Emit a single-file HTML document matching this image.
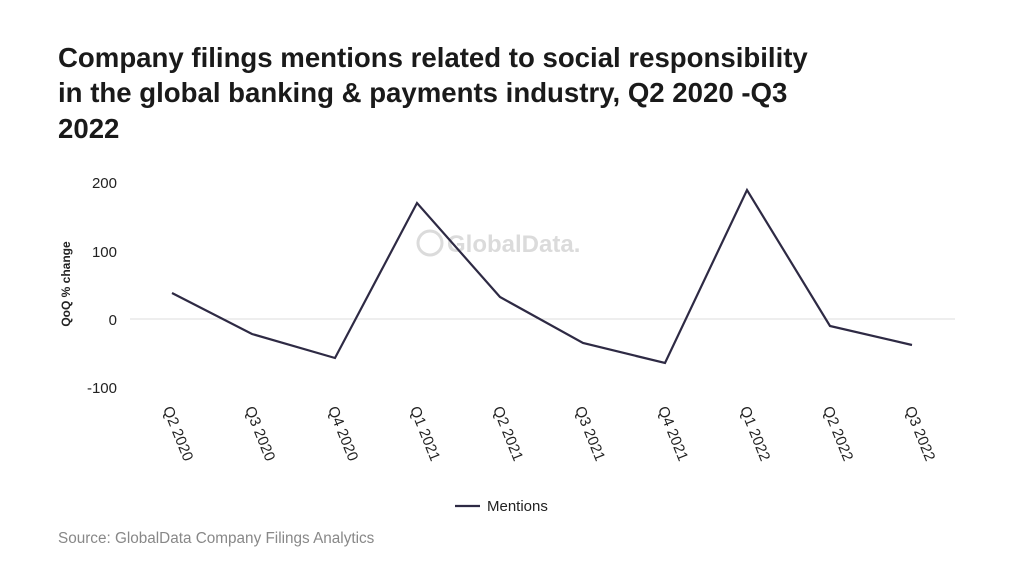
<!DOCTYPE html>
<html><head><meta charset="utf-8"><style>
body{margin:0;background:#fff;width:1024px;height:558px;overflow:hidden;font-family:"Liberation Sans",sans-serif}
</style></head><body>
<svg width="1024" height="558" xmlns="http://www.w3.org/2000/svg" font-family="Liberation Sans, sans-serif">
<text font-size="27.6" font-weight="bold" fill="#1a1a1a">
<tspan x="58" y="67">Company filings mentions related to social responsibility</tspan>
<tspan x="58" y="102">in the global banking &amp; payments industry, Q2 2020 -Q3</tspan>
<tspan x="58" y="138">2022</tspan>
</text>
<g font-size="15" fill="#222" text-anchor="end">
<text x="117" y="188">200</text>
<text x="117" y="257">100</text>
<text x="117" y="325">0</text>
<text x="117" y="393">-100</text>
</g>
<text transform="translate(70,284) rotate(-90)" font-size="12" font-weight="bold" text-anchor="middle" fill="#222">QoQ % change</text>
<line x1="130" y1="319" x2="955" y2="319" stroke="#ddd" stroke-width="1"/>
<g opacity="0.35" fill="#999">
<circle cx="430" cy="243" r="12" fill="none" stroke="#999" stroke-width="3"/>
<text x="447" y="252" font-size="24" font-weight="bold">GlobalData.</text>
</g>
<polyline fill="none" stroke="#2e2a44" stroke-width="2.2" points="172,293 252,334 335,358 417,203 500,297 583,343 665,363 747,190 830,326 912,345"/>
<g font-size="15" fill="#222">
<text transform="translate(172,405) rotate(68)" dy="10">Q2 2020</text>
<text transform="translate(254,405) rotate(68)" dy="10">Q3 2020</text>
<text transform="translate(337,405) rotate(68)" dy="10">Q4 2020</text>
<text transform="translate(419,405) rotate(68)" dy="10">Q1 2021</text>
<text transform="translate(502,405) rotate(68)" dy="10">Q2 2021</text>
<text transform="translate(584,405) rotate(68)" dy="10">Q3 2021</text>
<text transform="translate(667,405) rotate(68)" dy="10">Q4 2021</text>
<text transform="translate(749,405) rotate(68)" dy="10">Q1 2022</text>
<text transform="translate(832,405) rotate(68)" dy="10">Q2 2022</text>
<text transform="translate(914,405) rotate(68)" dy="10">Q3 2022</text>
</g>
<line x1="455" y1="506" x2="480" y2="506" stroke="#2e2a44" stroke-width="2.2"/>
<text x="487" y="511" font-size="15" fill="#222">Mentions</text>
<text x="58" y="543" font-size="15.3" fill="#888">Source: GlobalData Company Filings Analytics</text>
</svg>
</body></html>
